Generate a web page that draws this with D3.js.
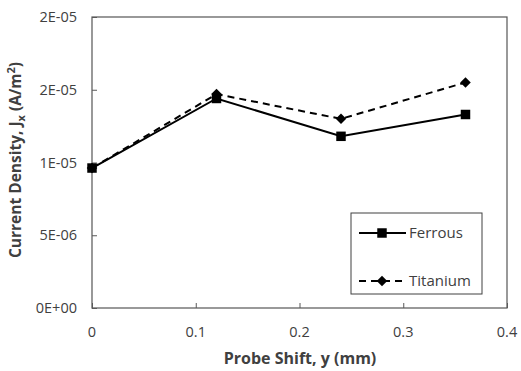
<!DOCTYPE html>
<html>
<head>
<meta charset="utf-8">
<script src="https://cdn.jsdelivr.net/npm/d3@7"></script>
<style>
  body { margin: 0; background: #fff; }
  text { font-family: "Open Sans", "Noto Sans", sans-serif; }
</style>
</head>
<body>
<svg id="chart" width="521" height="371"></svg>
<script>
// data
const probeShift = [0, 0.12, 0.24, 0.36];
const ferrous = [9.62e-6, 1.44e-5, 1.18e-5, 1.33e-5];
const titanium = [9.62e-6, 1.47e-5, 1.30e-5, 1.55e-5];
const xTicks = [0, 0.1, 0.2, 0.3, 0.4];
const yTicks = [0, 5e-6, 1e-5, 1.5e-5, 2e-5];
const seriesNames = ['Ferrous', 'Titanium'];

const svg = d3.select('#chart');
const margin = { left: 92, top: 17, right: 14, bottom: 63 };
const width = 521 - margin.left - margin.right;
const height = 371 - margin.top - margin.bottom;

const x = d3.scaleLinear().domain([0, 0.4]).range([margin.left, margin.left + width]);
const y = d3.scaleLinear().domain([0, 2e-5]).range([margin.top + height, margin.top]);

const axisColor = '#595959';
const labelColor = '#404040';

// plot frame
svg.append('rect')
  .attr('x', margin.left)
  .attr('y', margin.top)
  .attr('width', width)
  .attr('height', height)
  .attr('fill', 'none')
  .attr('stroke', '#555')
  .attr('stroke-width', 1.2);

// Y axis (ticks inside)
const yAxis = svg.append('g')
  .attr('transform', `translate(${margin.left},0)`)
  .call(d3.axisRight(y).tickValues(yTicks).tickSize(5).tickFormat(''));
yAxis.select('.domain').remove();
yAxis.selectAll('line').attr('stroke', axisColor);

// Excel-style 0E+00 labels (one significant digit)
const sciLabel = d => {
  if (d === 0) return '0E+00';
  let e = Math.floor(Math.log10(d));
  let m = Math.round(d / Math.pow(10, e));
  if (m >= 10) { m = 1; e += 1; }
  return `${m}E-${String(-e).padStart(2, '0')}`;
};

svg.append('g').selectAll('text')
  .data(yTicks)
  .enter()
  .append('text')
  .attr('x', margin.left - 15)
  .attr('y', d => y(d))
  .attr('dy', '0.35em')
  .attr('text-anchor', 'end')
  .style('font-size', '14.5px')
  .style('fill', labelColor)
  .text(sciLabel);

// X axis (ticks inside)
const xAxis = svg.append('g')
  .attr('transform', `translate(0,${margin.top + height})`)
  .call(d3.axisTop(x).tickValues(xTicks).tickSize(5).tickFormat(''));
xAxis.select('.domain').remove();
xAxis.selectAll('line').attr('stroke', axisColor);

svg.append('g').selectAll('text')
  .data(xTicks)
  .enter()
  .append('text')
  .attr('x', d => x(d))
  .attr('y', margin.top + height + 29)
  .attr('text-anchor', 'middle')
  .style('font-size', '14.5px')
  .style('fill', labelColor)
  .text(d => d === 0 ? '0' : d3.format('.1f')(d));

// axis titles
svg.append('text')
  .attr('x', 300)
  .attr('y', 364)
  .attr('text-anchor', 'middle')
  .style('font-size', '16px')
  .style('font-weight', 'bold')
  .style('fill', '#404040')
  .text('Probe Shift, y (mm)');

const yTitle = svg.append('text')
  .attr('transform', `translate(21,160) rotate(-90)`)
  .attr('text-anchor', 'middle')
  .style('font-size', '15.5px')
  .style('font-weight', 'bold')
  .style('fill', '#404040');
yTitle.append('tspan').text('Current Density, J');
yTitle.append('tspan').attr('dy', 4).style('font-size', '11px').text('x');
yTitle.append('tspan').attr('dy', -4).text(' (A/m');
yTitle.append('tspan').attr('dy', -6).style('font-size', '11px').text('2');
yTitle.append('tspan').attr('dy', 6).text(')');

// series
const line = d3.line().x(d => x(d[0])).y(d => y(d[1]));
const ferrousPts = probeShift.map((p, i) => [p, ferrous[i]]);
const titaniumPts = probeShift.map((p, i) => [p, titanium[i]]);

const square = d3.symbol().type(d3.symbolSquare).size(90);
const diamond = d3.symbol().type(d3.symbolSquare).size(55);

svg.append('path')
  .datum(titaniumPts)
  .attr('d', line)
  .attr('fill', 'none')
  .attr('stroke', '#000')
  .attr('stroke-width', 2)
  .attr('stroke-dasharray', '7,5');

svg.append('g').selectAll('path')
  .data(titaniumPts)
  .enter()
  .append('path')
  .attr('d', diamond)
  .attr('transform', d => `translate(${x(d[0])},${y(d[1])}) rotate(45)`)
  .attr('fill', '#000');

svg.append('path')
  .datum(ferrousPts)
  .attr('d', line)
  .attr('fill', 'none')
  .attr('stroke', '#000')
  .attr('stroke-width', 2);

svg.append('g').selectAll('path')
  .data(ferrousPts)
  .enter()
  .append('path')
  .attr('d', square)
  .attr('transform', d => `translate(${x(d[0])},${y(d[1])})`)
  .attr('fill', '#000');

// legend
const legend = svg.append('g').attr('transform', 'translate(351,213)');
legend.append('rect')
  .attr('width', 131)
  .attr('height', 81)
  .attr('fill', '#fff')
  .attr('stroke', '#404040')
  .attr('stroke-width', 1);

const legendRows = legend.selectAll('g.row')
  .data(seriesNames)
  .enter()
  .append('g')
  .attr('class', 'row')
  .attr('transform', (d, i) => `translate(0,${20 + i * 48})`);

legendRows.append('line')
  .attr('x1', 8)
  .attr('x2', 55)
  .attr('stroke', '#000')
  .attr('stroke-width', 2)
  .attr('stroke-dasharray', (d, i) => i === 1 ? '7,5' : null);

legendRows.append('path')
  .attr('d', (d, i) => i === 0 ? square() : diamond())
  .attr('transform', (d, i) => i === 0 ? 'translate(31,0)' : 'translate(31,0) rotate(45)')
  .attr('fill', '#000');

legendRows.append('text')
  .attr('x', 58)
  .attr('dy', '0.35em')
  .style('font-size', '15px')
  .style('fill', '#404040')
  .text(d => d);
</script>
</body>
</html>
